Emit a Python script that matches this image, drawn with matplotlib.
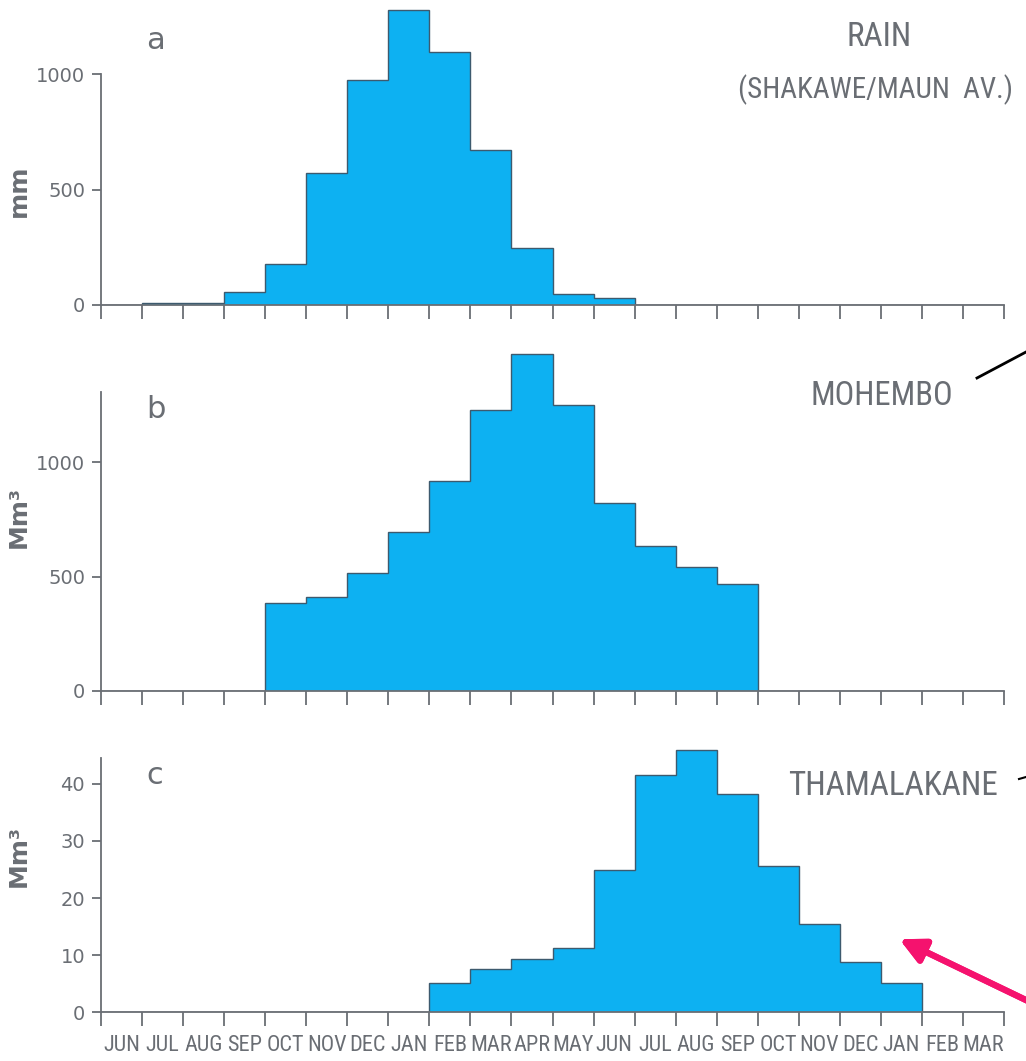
import matplotlib
matplotlib.use("Agg")
from matplotlib import pyplot as plt
from matplotlib import font_manager
from matplotlib.lines import Line2D

months = ['JUN', 'JUL', 'AUG', 'SEP', 'OCT', 'NOV', 'DEC', 'JAN', 'FEB', 'MAR', 'APR',
          'MAY', 'JUN', 'JUL', 'AUG', 'SEP', 'OCT', 'NOV', 'DEC', 'JAN', 'FEB', 'MAR']

rain = [0, 10, 10, 58, 176, 571, 977, 1278, 1097, 670, 247,
        48, 30, 0, 0, 0, 0, 0, 0, 0, 0, 0]
mohembo = [0, 0, 0, 0, 383, 412, 515, 695, 920, 1229, 1474,
           1252, 822, 634, 544, 466, 0, 0, 0, 0, 0, 0]
thamalakane = [0, 0, 0, 0, 0, 0, 0, 0, 5.1, 7.5, 9.3,
               11.3, 24.9, 41.6, 45.9, 38.2, 25.6, 15.5, 8.8, 5.1, 0, 0]

fill = '#0db1f2'
edge = '#3d5a6e'
grey = '#6a6e74'

# pick a narrow face for the lettering if one is around
have = {f.name for f in font_manager.fontManager.ttflist}
narrow = 'DejaVu Sans'
for cand in ['Roboto Condensed', 'Liberation Sans Narrow', 'Open Sans Condensed', 'Roboto']:
    if cand in have:
        narrow = cand
        break
nfont = dict(family=[narrow, 'DejaVu Sans'], stretch='condensed')

W, H = 1026, 1061
fig = plt.figure(figsize=(W / 100, H / 100), dpi=100)

x0 = 101 / W
xw = (1004 - 101) / W
edges = list(range(len(months) + 1))
centers = [i + 0.5 for i in range(len(months))]

# bottom px, ylim top, px per unit, spine top, yticks, ylabel, ylabel pos, letter, letter y
panels = [
    (305, 1320, 0.2306, 1000, [0, 500, 1000], 'mm', 0.374, 'a', 1110, rain),
    (691, 1530, 0.2287, 1308, [0, 500, 1000], 'Mm³', 0.497, 'b', 1195, mohembo),
    (1012.3, 47.5, 5.71, 44.5, [0, 10, 20, 30, 40], 'Mm³', 0.577, 'c', 40, thamalakane),
]

axes = []
for bottom, ytop, scale, stop, yt, ylab, ylpos, letter, ly, vals in panels:
    h = ytop * scale
    ax = fig.add_axes([x0, 1 - bottom / H, xw, h / H])
    ax.set_facecolor('none')
    ax.stairs(vals, edges, baseline=0, fill=True, facecolor=fill,
              edgecolor=edge, linewidth=1.0)
    ax.set_xlim(0, len(months))
    ax.set_ylim(0, ytop)
    for s in ['top', 'right']:
        ax.spines[s].set_visible(False)
    for s in ['left', 'bottom']:
        ax.spines[s].set_color(grey)
        ax.spines[s].set_linewidth(1.3)
    ax.spines['left'].set_bounds(0, stop)
    ax.set_xticks(edges)
    ax.set_xticklabels([])
    ax.tick_params(axis='x', which='major', length=10, width=1.3, color=grey, direction='out')
    ax.set_yticks(yt)
    ax.set_yticklabels([str(v) for v in yt])
    ax.tick_params(axis='y', length=6.5, width=1.3, color=grey, labelcolor=grey,
                   labelsize=14, pad=5)
    ax.set_ylabel(ylab, fontsize=18, fontweight='bold', color=grey)
    ax.yaxis.set_label_coords(-0.078, ylpos)
    ax.text(1.1, ly, letter, fontsize=22, color=grey)
    axes.append(ax)

# month labels on the bottom panel
ax = axes[2]
ax.set_xticks(centers, minor=True)
ax.set_xticklabels(months, minor=True, fontsize=16, color=grey, **nfont)
ax.tick_params(axis='x', which='minor', length=0, pad=16)

titles = [
    fig.text(879 / W, 1 - 37 / H, 'RAIN', ha='center', va='center',
             fontsize=22, color=grey, **nfont),
    fig.text(876 / W, 1 - 90 / H, '(SHAKAWE/MAUN  AV.)', ha='center', va='center',
             fontsize=22, color=grey, **nfont),
    fig.text(882 / W, 1 - 396 / H, 'MOHEMBO', ha='center', va='center',
             fontsize=22, color=grey, **nfont),
    fig.text(893 / W, 1 - 786 / H, 'THAMALAKANE', ha='center', va='center',
             fontsize=24, color=grey, **nfont),
]
widths = [65, 275, 143, 210]

# size the lettering to the widths seen in the scan
fig.canvas.draw()
r = fig.canvas.get_renderer()
for t, w in zip(titles, widths):
    t.set_fontsize(t.get_fontsize() * w / t.get_window_extent(r).width)

# overlay marks from the scan
fig.add_artist(Line2D([977 / W, 1026 / W], [1 - 378 / H, 1 - 352 / H],
                      transform=fig.transFigure, color='black', lw=2))
fig.add_artist(Line2D([1019 / W, 1026 / W], [1 - 779 / H, 1 - 777 / H],
                      transform=fig.transFigure, color='black', lw=1.5))
fig.add_artist(plt.annotate('', xy=(897, H - 938), xycoords='figure pixels',
                            xytext=(1030, H - 1002), textcoords='figure pixels',
                            arrowprops=dict(arrowstyle='-|>,head_length=1.5,head_width=0.75',
                                            color='#f5126e', lw=4.5)))

plt.savefig('out.png', dpi=100)
